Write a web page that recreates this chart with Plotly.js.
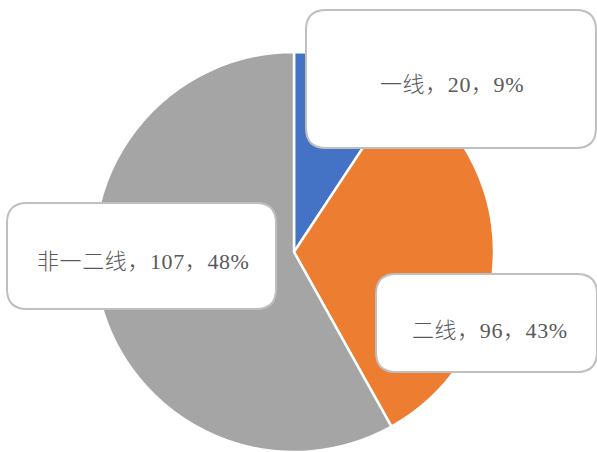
<!DOCTYPE html>
<html>
<head>
<meta charset="utf-8">
<script src="https://cdn.plot.ly/plotly-3.0.1.min.js"></script>
<style>html,body{margin:0;padding:0;background:#fff;}#chart{width:597px;height:452px;}</style>
</head>
<body>
<div id="chart"></div>
<script>
const categories = ["一线", "二线", "非一二线"];
// values and percentages as printed in the data labels
const labelValues = [20, 96, 107];
const labelPercents = [9, 43, 48];
// share of the circle each slice occupies as drawn in the picture (%)
const sliceShares = [9.3, 32.6, 58.1];
const colors = ["#4472C4", "#ED7D31", "#A5A5A5"];

// label box geometry (pixels): [x0, y0, x1, y1] and text centre
const boxes = [[306, 10, 596, 148], [376, 274, 597, 372], [7, 203, 276, 309]];
const textPos = [[452, 82], [490, 328], [143, 259]];

const labels = categories.map((c, i) =>
  '<span style="letter-spacing:0.6px">' + c + "，" + labelValues[i] + "，" + labelPercents[i] + "%</span>");

function roundRect(b, r) {
  const [x0, y0, x1, y1] = b;
  return `M${x0 + r},${y0} L${x1 - r},${y0} Q${x1},${y0} ${x1},${y0 + r} L${x1},${y1 - r} Q${x1},${y1} ${x1 - r},${y1} L${x0 + r},${y1} Q${x0},${y1} ${x0},${y1 - r} L${x0},${y0 + r} Q${x0},${y0} ${x0 + r},${y0} Z`;
}

const W = 597, H = 452;
const pie = {
  type: "pie",
  labels: categories,
  values: sliceShares,
  sort: false,
  direction: "clockwise",
  rotation: 0,
  textinfo: "none",
  hoverinfo: "label",
  marker: { colors: colors, line: { color: "#ffffff", width: 2.5 } },
  domain: { x: [94 / W, 494 / W], y: [0, 400 / H] },
  showlegend: false
};
const dummy = { type: "scatter", x: [], y: [], mode: "none", showlegend: false, hoverinfo: "skip" };

const layout = {
  width: W, height: H,
  margin: { l: 0, r: 0, t: 0, b: 0 },
  paper_bgcolor: "#ffffff",
  plot_bgcolor: "rgba(0,0,0,0)",
  showlegend: false,
  xaxis: { range: [0, W], visible: false, fixedrange: true },
  yaxis: { range: [H, 0], visible: false, fixedrange: true },
  shapes: boxes.map(b => ({
    type: "path", xref: "x", yref: "y", layer: "above",
    path: roundRect(b, 20),
    fillcolor: "#ffffff",
    line: { color: "#BFBFBF", width: 2 }
  })),
  annotations: labels.map((t, i) => ({
    xref: "x", yref: "y",
    x: textPos[i][0],
    y: textPos[i][1] + 2,
    text: t, showarrow: false,
    xanchor: "center", yanchor: "middle",
    font: { family: "'Liberation Serif', 'Noto Sans CJK SC', serif", size: 22, color: "#595959", weight: 300 }
  }))
};

Plotly.newPlot("chart", [dummy, pie], layout, { displayModeBar: false, staticPlot: true });
</script>
</body>
</html>
